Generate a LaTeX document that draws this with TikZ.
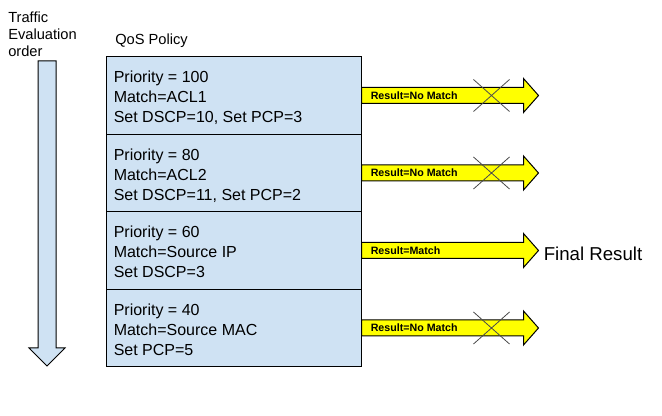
\documentclass[tikz,border=0pt]{standalone}
\usepackage{fontspec}
\setmainfont{Liberation Sans}
\usetikzlibrary{calc}
\definecolor{policyblue}{HTML}{CFE2F3}
\definecolor{resultyellow}{HTML}{FFFF00}
\tikzset{
  rulebox/.style={draw=black, line width=0.75pt, fill=policyblue, minimum width=191.25pt, minimum height=58.1pt, inner sep=0pt},
  ruletext/.style={anchor=base west, align=left, inner sep=0pt, font=\fontsize{12}{15}\selectfont},
  resarrow/.style={draw=black, line width=0.75pt, fill=resultyellow},
  reslabel/.style={anchor=west, inner sep=0pt, font=\fontsize{8}{9.6}\selectfont\bfseries},
  nocross/.style={draw=black!70, line width=0.6pt}
}
\def\resultarrow(#1)#2{\draw[resarrow] ($(#1.east)+(0,-8)$) -- ++(162,0) -- ++(0,-9) -- ++(15,17) -- ++(-15,17) -- ++(0,-9) -- ++(-162,0) -- cycle;
  \node[reslabel] at ($(#1.east)+(9,0)$) {#2};}
\def\nomatch(#1){\draw[nocross] ($(#1.east)+(112,-16)$) -- ($(#1.east)+(148,16)$) ($(#1.east)+(148,-16)$) -- ($(#1.east)+(112,16)$);}

\begin{document}
\begin{tikzpicture}[x=0.75pt, y=-0.75pt]
			\useasboundingbox (0,0) rectangle (662,416);
			
			%%%%% ORDER %%%%%
			\node[anchor=base west, align=left, inner sep=0pt, font=\fontsize{11}{13.1}\selectfont] (order) at (8,57) {Traffic\\Evaluation\\order};
			\draw[fill=policyblue, line width=0.75pt] (38,61) -- (56,61) -- (56,348) -- (65,348) -- (47,366) -- (29,348) -- (38,348) -- cycle;
			
			%%%%% POLICY %%%%%
			\node[anchor=base west, inner sep=0pt, font=\fontsize{11}{13}\selectfont] (policy) at (115,45) {QoS Policy};
			
			\node[rulebox] (prio100) at (233.5,95.5) {};
			\node[rulebox] (prio80) at (233.5,173) {};
			\node[rulebox] (prio60) at (233.5,250.5) {};
			\node[rulebox] (prio40) at (233.5,328) {};
			
			% anchor base = baseline of the last line
			\node[ruletext] (txt100) at ($(prio100.north west)+(8,66.5)$) {Priority = 100\\Match=ACL1\\Set DSCP=10, Set PCP=3};
			\node[ruletext] (txt80) at ($(prio80.north west)+(8,66.5)$) {Priority = 80\\Match=ACL2\\Set DSCP=11, Set PCP=2};
			\node[ruletext] (txt60) at ($(prio60.north west)+(8,66.5)$) {Priority = 60\\Match=Source IP\\Set DSCP=3};
			\node[ruletext] (txt40) at ($(prio40.north west)+(8,66.5)$) {Priority = 40\\Match=Source MAC\\Set PCP=5};
			
			%%%%% RESULTS %%%%%
			\resultarrow(prio100){Result=No Match}
			\nomatch(prio100)
			\resultarrow(prio80){Result=No Match}
			\nomatch(prio80)
			\resultarrow(prio60){Result=Match}
			\resultarrow(prio40){Result=No Match}
			\nomatch(prio40)
			
			\node[anchor=base west, inner sep=0pt, font=\fontsize{14}{16}\selectfont] (final) at ($(prio60.east)+(182,10)$) {Final Result};
			
\end{tikzpicture}
\end{document}
